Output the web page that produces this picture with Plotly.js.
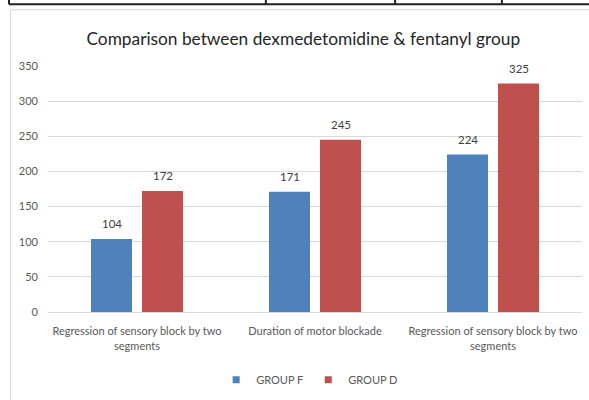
<!DOCTYPE html>
<html>
<head>
<meta charset="utf-8">
<script src="https://cdn.plot.ly/plotly-3.0.1.min.js"></script>
<style>html,body{margin:0;padding:0;background:#fff;}#chart{width:589px;height:400px;}</style>
</head>
<body>
<div id="chart"></div>
<script>
var categories = ["Regression of sensory block by two<br>segments", "Duration of motor blockade", "Regression of sensory block by two<br>segments"];
var groupF = [104, 171, 224];
var groupD = [172, 245, 325];
var seriesNames = ["GROUP F", "GROUP D"];
var seriesColors = ["#4F81BD", "#C0504D"];
var yTicks = [0, 50, 100, 150, 200, 250, 300, 350];

var xIdx = categories.map(function(c, i){ return i; });
var font = "Lato, Liberation Sans, sans-serif";
var bargap = 0.427, bargroupgap = 0.196;
var slot = (1 - bargap) / 2;

var traces = [
  {type: "bar", name: seriesNames[0], x: xIdx, y: groupF, marker: {color: seriesColors[0]}, showlegend: false},
  {type: "bar", name: seriesNames[1], x: xIdx, y: groupD, marker: {color: seriesColors[1]}, showlegend: false},
  {type: "scatter", mode: "markers", name: seriesNames[0], x: [null], y: [null], marker: {symbol: "square", size: 7, color: seriesColors[0]}},
  {type: "scatter", mode: "markers", name: seriesNames[1], x: [null], y: [null], marker: {symbol: "square", size: 7, color: seriesColors[1]}}
];

var annotations = [];
[groupF, groupD].forEach(function(series, s){
  series.forEach(function(v, i){
    annotations.push({x: i + (s === 0 ? -slot/2 : slot/2), y: v, xref: "x", yref: "y", text: String(v),
      showarrow: false, yanchor: "bottom", yshift: 7, font: {family: font, size: 11.5, color: "#404040"}});
  });
});

var layout = {
  width: 589, height: 400,
  margin: {l: 48, r: 7, t: 66, b: 87},
  paper_bgcolor: "#fff", plot_bgcolor: "#fff",
  font: {family: font, color: "#595959", size: 11},
  title: {text: "Comparison between dexmedetomidine &amp; fentanyl group", x: 0.515, xanchor: "center", y: 0.902, yanchor: "middle",
          font: {family: font, size: 17.3, color: "#262626"}},
  barmode: "group", bargap: bargap, bargroupgap: bargroupgap,
  xaxis: {range: [-0.5, 2.5], tickvals: xIdx, ticktext: categories, showgrid: false, zeroline: false,
          showline: true, linecolor: "#d9d9d9", linewidth: 1, ticks: "", ticklabelstandoff: 9,
          tickfont: {size: 11, color: "#595959"}, fixedrange: true},
  yaxis: {range: [0, 350], tickvals: yTicks, showgrid: true, gridcolor: "#d9d9d9", zeroline: false,
          showline: false, ticks: "", ticklabelstandoff: 9, tickfont: {size: 11, color: "#595959"}, fixedrange: true},
  legend: {orientation: "h", x: 0.49, xanchor: "center", y: -0.27, yanchor: "middle",
           font: {size: 11, color: "#595959"}, itemwidth: 30, traceorder: "normal"},
  showlegend: true,
  annotations: annotations,
  shapes: [
    {type: "line", xref: "paper", yref: "paper", x0: -0.073, x1: 1.02, y0: 1.251, y1: 1.251, line: {color: "#222", width: 2}},
    {type: "line", xref: "paper", yref: "paper", x0: -0.073, x1: -0.073, y0: 1.251, y1: 1.28, line: {color: "#222", width: 2}},
    {type: "line", xref: "paper", yref: "paper", x0: 0.408, x1: 0.408, y0: 1.251, y1: 1.28, line: {color: "#222", width: 2}},
    {type: "line", xref: "paper", yref: "paper", x0: 0.650, x1: 0.650, y0: 1.251, y1: 1.28, line: {color: "#222", width: 2}},
    {type: "line", xref: "paper", yref: "paper", x0: 0.850, x1: 0.850, y0: 1.251, y1: 1.28, line: {color: "#222", width: 2}},
    {type: "line", xref: "paper", yref: "paper", x0: -0.0702, x1: 1.02, y0: 1.229, y1: 1.229, line: {color: "#d9d9d9", width: 1}},
    {type: "line", xref: "paper", yref: "paper", x0: -0.0702, x1: -0.0702, y0: 1.229, y1: -0.36, line: {color: "#d9d9d9", width: 1}}
  ]
};

Plotly.newPlot("chart", traces, layout, {displayModeBar: false, staticPlot: true});
</script>
</body>
</html>
